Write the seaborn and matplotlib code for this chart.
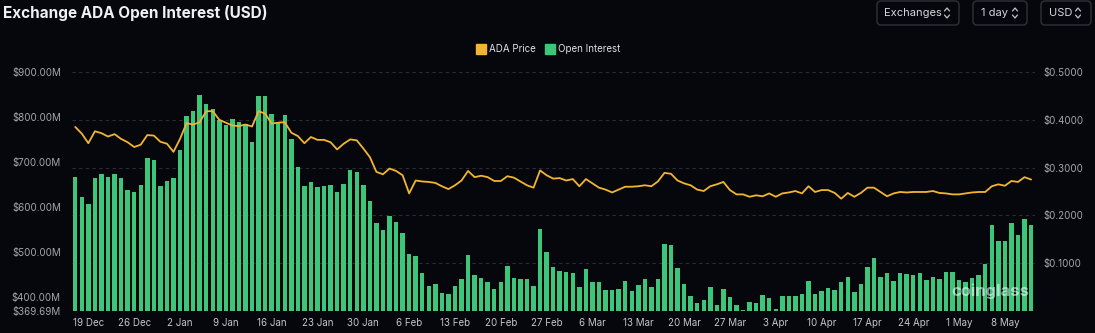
import numpy as np
import pandas as pd
import matplotlib.pyplot as plt
import seaborn as sns
from matplotlib.patches import FancyBboxPatch
from matplotlib.lines import Line2D
from matplotlib.transforms import IdentityTransform

# daily data, 17 Dec -> 12 May
dates = pd.date_range('2022-12-17', '2023-05-12', freq='D')

# open interest, $M
open_interest = [
    668, 623, 606, 664, 673, 666, 673, 664, 639, 634,
    650, 710, 704, 647, 658, 664, 727, 803, 814, 848,
    829, 819, 794, 782, 796, 788, 785, 745, 846, 847,
    807, 787, 805, 752, 690, 648, 655, 644, 646, 649,
    633, 652, 683, 679, 649, 613, 566, 549, 581, 567,
    542, 496, 492, 453, 425, 429, 409, 408, 425, 441,
    494, 450, 442, 433, 418, 433, 470, 444, 441, 441,
    425, 552, 501, 467, 459, 456, 455, 424, 462, 434,
    434, 416, 416, 419, 436, 413, 427, 441, 424, 441,
    519, 517, 464, 430, 403, 387, 394, 424, 383, 418,
    400, 382, 372, 389, 388, 405, 398, 375, 402, 402,
    403, 408, 436, 408, 414, 421, 417, 435, 445, 411,
    429, 467, 488, 445, 453, 436, 453, 451, 449, 454,
    438, 445, 441, 457, 457, 438, 435, 442, 450, 473,
    560, 524, 526, 566, 539, 573, 560,
]

# ADA price, USD
ada_price = [
    .385, .371, .351, .376, .372, .365, .370, .360, .353, .343,
    .348, .368, .367, .354, .350, .333, .360, .393, .390, .395,
    .418, .418, .400, .394, .388, .387, .390, .386, .418, .413,
    .392, .394, .395, .373, .366, .351, .364, .358, .358, .353,
    .338, .350, .359, .357, .340, .322, .291, .286, .298, .293,
    .284, .246, .273, .271, .270, .268, .261, .255, .263, .273,
    .293, .280, .283, .280, .272, .272, .282, .279, .271, .263,
    .258, .294, .284, .277, .278, .273, .276, .261, .276, .267,
    .258, .254, .248, .254, .260, .260, .261, .263, .261, .271,
    .289, .287, .273, .267, .263, .254, .251, .261, .265, .270,
    .253, .244, .244, .239, .242, .240, .246, .239, .246, .248,
    .251, .246, .261, .249, .253, .253, .247, .235, .247, .239,
    .247, .258, .258, .249, .240, .246, .249, .248, .249, .249,
    .249, .251, .247, .246, .244, .244, .246, .248, .249, .249,
    .261, .265, .262, .272, .270, .280, .275,
]

tick_labels = ['19 Dec', '26 Dec', '2 Jan', '9 Jan', '16 Jan', '23 Jan', '30 Jan',
               '6 Feb', '13 Feb', '20 Feb', '27 Feb', '6 Mar', '13 Mar', '20 Mar',
               '27 Mar', '3 Apr', '10 Apr', '17 Apr', '24 Apr', '1 May', '8 May']
oi_ticks = [369.69, 400, 500, 600, 700, 800, 900]
price_ticks = [0.1, 0.2, 0.3, 0.4, 0.5]

df = pd.DataFrame({'idx': np.arange(len(dates)), 'date': dates,
                   'oi': open_interest, 'price': ada_price})

bg = '#05070c'
green = '#3cc67a'
orange = '#f2b431'
grid_c = '#2a2d34'
tick_c = '#a4a7ae'

sns.set_style('dark')
plt.rcParams['font.family'] = ['Inter', 'DejaVu Sans']

fig = plt.figure(figsize=(10.95, 3.33), dpi=100, facecolor=bg)
ax = fig.add_axes([72 / 1095, 22 / 333, 963 / 1095, 239 / 333])
ax.set_facecolor(bg)

oi_lo, oi_hi = 369.69, 900
p_lo, p_hi = 0, 0.5

# dashed grid belongs to the price axis, drawn behind bars
for p in price_ticks:
    ax.axhline(oi_lo + (p - p_lo) / (p_hi - p_lo) * (oi_hi - oi_lo),
               color=grid_c, lw=0.8, ls=(0, (3, 3)), zorder=0)

sns.barplot(data=df, x='idx', y='oi', ax=ax, color=green, saturation=1,
            width=0.68, native_scale=True, edgecolor='none', linewidth=0, zorder=2)
ax.set_ylim(oi_lo, oi_hi)
ax.set_xlim(-0.5, len(dates) - 0.4)
ax.set_yticks(oi_ticks)
ax.set_yticklabels([f'${v:.2f}M' for v in oi_ticks])
ax.set_xticks(df['idx'][2::7])
ax.set_xticklabels(tick_labels)
ax.tick_params(axis='y', length=0, pad=8, labelsize=7, colors=tick_c)
ax.tick_params(axis='x', length=0, pad=5, labelsize=7, colors='#c3c6cc')
ax.set(xlabel='', ylabel='')
ax.grid(False)

ax2 = ax.twinx()
sns.lineplot(data=df, x='idx', y='price', ax=ax2, color=orange, lw=1.3)
ax2.set_ylim(p_lo, p_hi)
ax2.set_yticks(price_ticks)
ax2.set_yticklabels([f'${v:.4f}' for v in price_ticks])
ax2.tick_params(axis='y', length=0, pad=6, labelsize=7, colors=tick_c)
ax2.set(xlabel='', ylabel='')
ax2.grid(False)

for a in (ax, ax2):
    for s in a.spines.values():
        s.set_visible(False)

# title
fig.text(3 / 1095, 1 - 13 / 333, 'Exchange ADA Open Interest (USD)', ha='left', va='center',
         fontsize=11, fontweight='bold', color='#eef0f3')

# legend
handles = [Line2D([], [], marker='s', ls='none', color=orange, markersize=7),
           Line2D([], [], marker='s', ls='none', color=green, markersize=7)]
leg = fig.legend(handles, ['ADA Price', 'Open Interest'], loc='center',
                 bbox_to_anchor=(548 / 1095, 1 - 49 / 333), ncol=2, frameon=False,
                 fontsize=7, handletextpad=0.3, columnspacing=1.0, handlelength=1)
for t in leg.get_texts():
    t.set_color('#dcdfe4')

# watermark
fig.text(990 / 1095, 1 - 291 / 333, 'coinglass', ha='center', va='center',
         fontsize=12, fontweight='bold', color='white', alpha=0.55)

# control buttons at top right (pixel coords, y from top)
H = 333
ident = IdentityTransform()
for x0, x1, label, tx, cx in [(877, 959, 'Exchanges', 884, 947),
                              (973, 1027, '1 day', 981, 1015),
                              (1041, 1091, 'USD', 1049, 1078)]:
    fig.add_artist(FancyBboxPatch((x0, H - 25), x1 - x0, 24,
                                  boxstyle='round,pad=0,rounding_size=4',
                                  transform=ident, fc='none', ec='#2e3139', lw=1))
    fig.text(tx / 1095, 1 - 13 / H, label, ha='left', va='center',
             fontsize=8, color='#d4d7dd')
    fig.add_artist(Line2D([cx - 2.5, cx, cx + 2.5], [H - 11, H - 8, H - 11],
                          transform=ident, color='#c0c3c9', lw=0.9))
    fig.add_artist(Line2D([cx - 2.5, cx, cx + 2.5], [H - 15, H - 18, H - 15],
                          transform=ident, color='#c0c3c9', lw=0.9))

fig.savefig('out.png', dpi=100, facecolor=bg)
